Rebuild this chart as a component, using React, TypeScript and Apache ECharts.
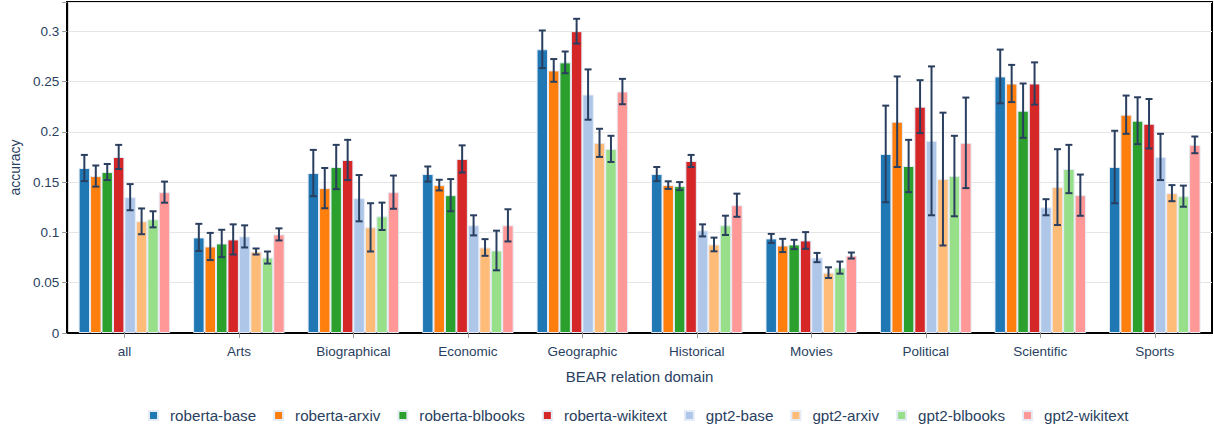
import React, { useEffect, useRef } from "react";
import * as echarts from "echarts";

const categories = ["all", "Arts", "Biographical", "Economic", "Geographic", "Historical", "Movies", "Political", "Scientific", "Sports"];
const seriesNames = ["roberta-base", "roberta-arxiv", "roberta-blbooks", "roberta-wikitext", "gpt2-base", "gpt2-arxiv", "gpt2-blbooks", "gpt2-wikitext"];
const colors = ["#1f77b4", "#ff7f0e", "#2ca02c", "#d62728", "#aec7e8", "#ffbb78", "#98df8a", "#ff9896"];

const robertaBase = [0.164, 0.095, 0.159, 0.158, 0.282, 0.158, 0.094, 0.178, 0.255, 0.165];
const robertaBaseErr = [0.013, 0.0135, 0.023, 0.0075, 0.0187, 0.007, 0.0045, 0.048, 0.0267, 0.036];
const robertaArxiv = [0.156, 0.086, 0.144, 0.147, 0.261, 0.147, 0.087, 0.21, 0.248, 0.217];
const robertaArxivErr = [0.0105, 0.0135, 0.02, 0.0053, 0.0113, 0.0038, 0.0066, 0.045, 0.0185, 0.019];
const robertaBlbooks = [0.16, 0.089, 0.165, 0.137, 0.269, 0.146, 0.088, 0.166, 0.221, 0.211];
const robertaBlbooksErr = [0.008, 0.0136, 0.022, 0.016, 0.0108, 0.004, 0.0046, 0.026, 0.027, 0.0233];
const robertaWikitext = [0.175, 0.093, 0.172, 0.173, 0.3, 0.171, 0.092, 0.225, 0.248, 0.208];
const robertaWikitextErr = [0.012, 0.015, 0.02, 0.0135, 0.0123, 0.006, 0.0083, 0.0263, 0.021, 0.0246];
const gpt2Base = [0.135, 0.096, 0.134, 0.107, 0.237, 0.102, 0.075, 0.191, 0.125, 0.175];
const gpt2BaseErr = [0.013, 0.011, 0.023, 0.01, 0.025, 0.006, 0.0046, 0.074, 0.008, 0.023];
const gpt2Arxiv = [0.111, 0.081, 0.105, 0.085, 0.189, 0.088, 0.06, 0.153, 0.145, 0.139];
const gpt2ArxivErr = [0.0128, 0.003, 0.024, 0.0083, 0.014, 0.0068, 0.0053, 0.066, 0.0377, 0.008];
const gpt2Blbooks = [0.113, 0.075, 0.116, 0.082, 0.183, 0.107, 0.065, 0.156, 0.163, 0.136];
const gpt2BlbooksErr = [0.008, 0.006, 0.0136, 0.0197, 0.013, 0.0096, 0.006, 0.04, 0.024, 0.0105];
const gpt2Wikitext = [0.14, 0.098, 0.14, 0.107, 0.24, 0.127, 0.077, 0.189, 0.137, 0.187];
const gpt2WikitextErr = [0.0105, 0.006, 0.0165, 0.016, 0.0126, 0.0115, 0.003, 0.045, 0.0205, 0.0083];

const values = [robertaBase, robertaArxiv, robertaBlbooks, robertaWikitext, gpt2Base, gpt2Arxiv, gpt2Blbooks, gpt2Wikitext];
const errors = [robertaBaseErr, robertaArxivErr, robertaBlbooksErr, robertaWikitextErr, gpt2BaseErr, gpt2ArxivErr, gpt2BlbooksErr, gpt2WikitextErr];

const FONT = "'Liberation Sans', Arial, sans-serif";
const TEXT = "#2a3f5f";

export default function App() {
  const ref = useRef<HTMLDivElement>(null);
  useEffect(() => {
    if (!ref.current) return;
    const chart = echarts.init(ref.current, undefined, { renderer: "svg" });
    const n = seriesNames.length;
    const barSeries = seriesNames.map((name, i) => ({
      name,
      type: "bar",
      data: values[i],
      barGap: "0%",
      barCategoryGap: "20%",
      itemStyle: { color: colors[i], borderColor: "#e5ecf6", borderWidth: 1 },
      z: 2,
    }));
    const errSeries = seriesNames.map((name, i) => ({
      name,
      type: "custom",
      z: 5,
      data: values[i].map((v, k) => [k, v - errors[i][k], v + errors[i][k]]),
      encode: { x: 0, y: [1, 2] },
      renderItem: (params: any, api: any) => {
        const x = api.value(0);
        const lo = api.coord([x, api.value(1)]);
        const hi = api.coord([x, api.value(2)]);
        const catW = api.size([1, 0])[0];
        const barW = (catW * 0.8) / n;
        const cx = lo[0] + (i - (n - 1) / 2) * barW;
        const half = 3.5;
        const st = { stroke: TEXT, lineWidth: 2 };
        return {
          type: "group",
          children: [
            { type: "line", shape: { x1: cx, y1: lo[1], x2: cx, y2: hi[1] }, style: st },
            { type: "line", shape: { x1: cx - half, y1: lo[1], x2: cx + half, y2: lo[1] }, style: st },
            { type: "line", shape: { x1: cx - half, y1: hi[1], x2: cx + half, y2: hi[1] }, style: st },
          ],
        };
      },
    }));
    chart.setOption({
      animation: false,
      textStyle: { fontFamily: FONT },
      grid: { left: 63, right: 2, top: 2, bottom: 97, show: true, borderColor: "#000", borderWidth: 2 },
      legend: {
        data: seriesNames.map((name) => ({ name, icon: "rect" })),
        bottom: 2,
        left: 143,
        itemWidth: 9,
        itemHeight: 9,
        itemGap: 17,
        textStyle: { fontFamily: FONT, fontSize: 15.2, color: TEXT, padding: [0, 0, 0, 7] },
      },
      xAxis: {
        type: "category",
        data: categories,
        name: "BEAR relation domain",
        nameLocation: "middle",
        nameGap: 36,
        nameTextStyle: { fontFamily: FONT, fontSize: 15, color: TEXT },
        axisLine: { show: true, lineStyle: { color: "#000", width: 2 } },
        axisTick: { show: true, alignWithLabel: true, length: 5, lineStyle: { color: "#999" } },
        axisLabel: { fontFamily: FONT, fontSize: 13.5, color: TEXT, margin: 11 },
        splitLine: { show: false },
      },
      yAxis: {
        type: "value",
        min: 0,
        max: 0.329,
        interval: 0.05,
        name: "accuracy",
        nameLocation: "middle",
        nameRotate: 90,
        nameGap: 42,
        nameTextStyle: { fontFamily: FONT, fontSize: 14, color: TEXT },
        axisLine: { show: true, lineStyle: { color: "#000", width: 2 } },
        axisTick: { show: true, length: 5, lineStyle: { color: "#999" } },
        axisLabel: {
          fontFamily: FONT,
          fontSize: 13.5,
          color: TEXT,
          margin: 8,
          formatter: (v: number) => {
            const r = Math.round(v / 0.05);
            if (Math.abs(v - r * 0.05) > 1e-6) return "";
            return String(+(r * 0.05).toFixed(2));
          },
        },
        splitLine: { show: true, lineStyle: { color: "#e5e5e5", width: 1 } },
      },
      series: [...barSeries, ...errSeries],
    });
    return () => chart.dispose();
  }, []);
  return <div ref={ref} style={{ position: "absolute", left: 0, top: 0, width: 1214, height: 430 }} />;
}
